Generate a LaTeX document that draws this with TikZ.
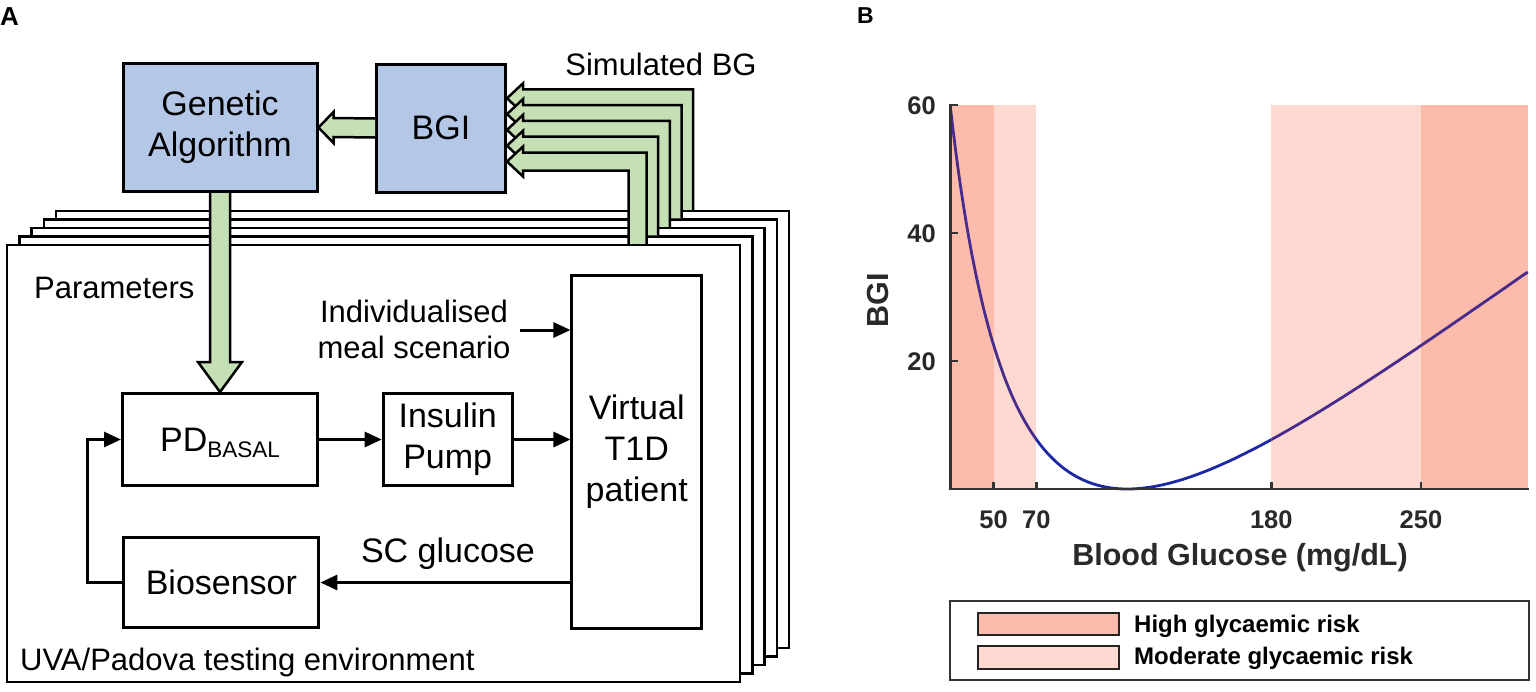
\documentclass[tikz,border=0pt]{standalone}
\usepackage{fontspec}
\setmainfont{Liberation Sans}
\usetikzlibrary{arrows.meta,calc}
\definecolor{gfill}{RGB}{197,224,180}
\definecolor{bfill}{RGB}{180,199,231}
\definecolor{hirisk}{RGB}{253,187,172}
\definecolor{modrisk}{RGB}{253,217,209}
\definecolor{axgray}{RGB}{51,51,51}
\definecolor{curveblue}{RGB}{28,40,165}
\definecolor{curvepurple}{RGB}{72,44,140}
\newcommand{\fsz}[2]{\fontsize{#1}{#2}\selectfont}
\begin{document}
\begin{tikzpicture}[x=1pt,y=-1pt,
  declare function={bgf(\t)=1.509*(pow(ln(\t),1.084)-5.381);},
  box/.style={draw=black,line width=3pt,inner sep=0pt,font=\fsz{34}{41},align=center},
  bluebox/.style={box,fill=bfill},
  frame/.style={draw=black,fill=white,line width=2.5pt,minimum width=733pt,minimum height=437pt,inner sep=0pt},
  garrow/.style={fill=gfill,draw=black,line width=2.5pt,line join=miter},
  conn/.style={draw=black,line width=3pt,-{Triangle[length=17pt,width=15pt]}},
  lbl/.style={font=\fsz{31}{36},inner sep=0pt},
  panel/.style={font=\bfseries\fsz{26}{26},inner sep=0pt},
  tick/.style={font=\bfseries\fsz{25.5}{26},inner sep=0pt,text=axgray!80!black},
  axlbl/.style={font=\bfseries\fsz{30.5}{31},inner sep=0pt,text=axgray!80!black},
  leglbl/.style={font=\bfseries\fsz{24}{24},inner sep=0pt,text=black},
  patch/.style={draw=axgray!70!black,line width=2pt,minimum width=141pt,inner sep=0pt},
  curve/.style={line width=2.8pt}
]
\useasboundingbox (0,0) rectangle (1536,691);

% ---------------- Panel A ----------------
\node[panel,anchor=base west] (labA) at (0,25) {A};

\node[bluebox,minimum width=194pt,minimum height=128pt] (ga) at (220,127.5) {Genetic\\Algorithm};
\node[bluebox,minimum width=129pt,minimum height=128pt] (bgi) at (441,128) {BGI};

% stacked testing environments with simulated BG arrows
\foreach \i in {4,3,2,1,0}{
  \node[frame] (f\i) at ({373.7+12.2*\i},{463.5-8.5*\i}) {};
  \pgfmathsetmacro\X{637.5+11.67*\i}
  \pgfmathsetmacro\Y{161.5-15.8*\i}
  \coordinate (e\i) at (\X,\Y);
  \coordinate (tip\i) at (bgi.east |- e\i);
  \filldraw[garrow] ($(e\i |- f\i.north)+(-9,0)$) -- ($(e\i)+(-9,9)$)
     -- ($(tip\i)+(16,9)$) -- ($(tip\i)+(16,15)$) -- (tip\i)
     -- ($(tip\i)+(16,-15)$) -- ($(tip\i)+(16,-9)$) -- ($(e\i)+(9,-9)$)
     -- ($(e\i |- f\i.north)+(9,0)$);
}

% BGI -> GA
\filldraw[garrow] ($(bgi.west)+(0,-9.5)$) -- ($(ga.east)+(15,-9.5)$) -- ($(ga.east)+(15,-15.5)$)
   -- (ga.east) -- ($(ga.east)+(15,15.5)$) -- ($(ga.east)+(15,9.5)$) -- ($(bgi.west)+(0,9.5)$);

\node[lbl,anchor=base] (simbg) at (661,75) {Simulated BG};

% inner blocks
\node[box,minimum width=195pt,minimum height=92pt] (pd) at (220,439.5)
  {PD{\fsz{22.5}{22.5}\raisebox{-6pt}[0pt][0pt]{BASAL}}};
\node[box,minimum width=129pt,minimum height=92pt] (pump) at (447.7,439.5) {Insulin\\Pump};
\node[box,minimum width=129.5pt,minimum height=353pt] (virt) at (636.7,451.5) {Virtual\\T1D\\patient};
\node[box,minimum width=195pt,minimum height=90.5pt] (bio) at (221.4,582.5) {Biosensor};

% GA -> PD (Parameters)
\filldraw[garrow] ($(ga.south)+(-10,0)$) -- ($(pd.north)+(-10,-30)$) -- ($(pd.north)+(-22,-30)$)
   -- (pd.north) -- ($(pd.north)+(22,-30)$) -- ($(pd.north)+(10,-30)$) -- ($(ga.south)+(10,0)$);

\node[lbl,anchor=base west] (params) at (34,298) {Parameters};
\node[lbl,align=center] (meal) at (414,329) {Individualised\\meal scenario};
\node[box,draw=none,anchor=base] (scg) at (448,562) {SC glucose};
\node[lbl,anchor=base west] (uva) at (20,670) {UVA/Padova testing environment};

\coordinate (mealstart) at (520,330);
\draw[conn] (mealstart) -- (mealstart -| virt.west);
\draw[conn] (pd.east) -- (pump.west);
\draw[conn] (pump.east) -- (pump.east -| virt.west);
\draw[conn] (virt.west |- bio.east) -- (bio.east);
\draw[conn] (bio.west) -- ++(-35,0) |- (pd.west);

% ---------------- Panel B ----------------
\node[panel,anchor=base west,font=\bfseries\fsz{23}{23}] (labB) at (857,23) {B};

\fill[hirisk] (950.7,105) rectangle (993.5,489);
\fill[modrisk] (993.5,105) rectangle (1036.2,489);
\fill[modrisk] (1271.3,105) rectangle (1420.9,489);
\fill[hirisk] (1420.9,105) rectangle (1527.8,489);

% BGI curve: blue over the white band, purple over the shaded bands
\begin{scope}
  \clip (1036.2,60) rectangle (1271.3,500);
  \draw[curve,curveblue] plot[domain=30:300,samples=250,variable=\t]
    ({993.5+2.137*(\t-50)},{489-64*bgf(\t)*bgf(\t)});
\end{scope}
\begin{scope}
  \clip (940,60) rectangle (1036.2,500) (1271.3,60) rectangle (1535,500);
  \draw[curve,curvepurple] plot[domain=30:300,samples=250,variable=\t]
    ({993.5+2.137*(\t-50)},{489-64*bgf(\t)*bgf(\t)});
\end{scope}

\draw[axgray,line width=2.5pt] (950.7,104) -- (950.7,489) -- (1529,489);
\foreach \v in {20,40,60}{
  \draw[axgray,line width=2.5pt] (950.7,{489-6.4*\v}) -- ++(7,0);
  \node[tick,anchor=east] (yt\v) at (936,{490-6.4*\v}) {\v};
}
\foreach \v in {50,70,180,250}{
  \draw[axgray,line width=2.5pt] ({993.5+2.137*(\v-50)},489) -- ++(0,-7);
  \node[tick] (xt\v) at ({993.5+2.137*(\v-50)},520) {\v};
}
\node[axlbl,anchor=base] (xlab) at (1240,565) {Blood Glucose (mg/dL)};
\node[axlbl,rotate=90] (ylab) at (878,300) {BGI};

\node[draw=axgray,line width=2pt,minimum width=579pt,minimum height=79pt,inner sep=0pt] (legend) at (1239.5,640.5) {};
\node[patch,fill=hirisk,minimum height=22pt] (p1) at (1048.5,624) {};
\node[patch,fill=modrisk,minimum height=23pt] (p2) at (1048.5,657.5) {};
\node[leglbl,anchor=base west] (l1) at (1134,632) {High glycaemic risk};
\node[leglbl,anchor=base west] (l2) at (1134,664) {Moderate glycaemic risk};
\end{tikzpicture}
\end{document}
